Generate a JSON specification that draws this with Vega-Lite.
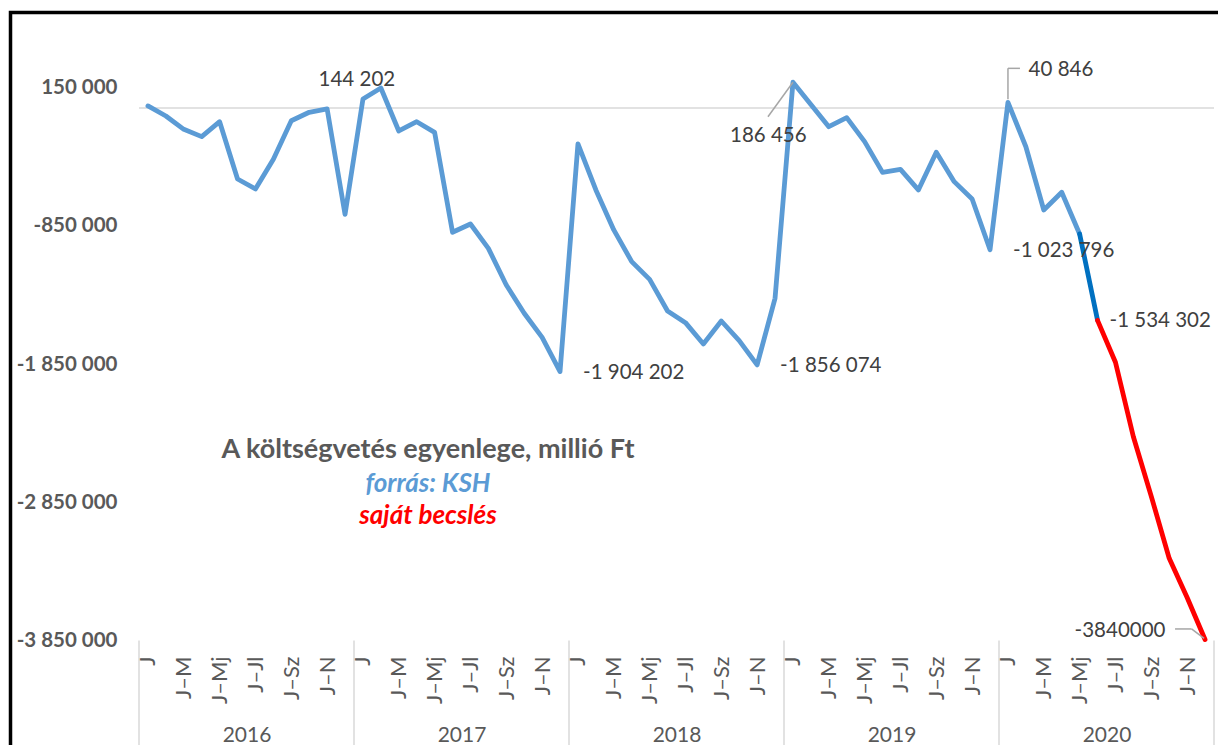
{
  "$schema": "https://vega.github.io/schema/vega-lite/v6.json",
  "width": 1209.5,
  "height": 734.5,
  "autosize": "none",
  "padding": {"left": 10.5, "top": 12.5, "right": -2, "bottom": -2},
  "background": "white",
  "config": {
    "locale": {"number": {"decimal": ",", "thousands": " ", "grouping": [3], "currency": ["", " Ft"], "minus": "-"}},
    "view": {"stroke": "#000000", "strokeWidth": 3.5},
    "font": "Lato",
    "text": {"font": "Lato", "fontSize": 20.5, "color": "#404040"}
  },
  "datasets": {
    "egyenleg": [
      {"m": 1, "v": 15000, "s": "KSH"},
      {"m": 2, "v": -58000, "s": "KSH"},
      {"m": 3, "v": -154000, "s": "KSH"},
      {"m": 4, "v": -207000, "s": "KSH"},
      {"m": 5, "v": -99000, "s": "KSH"},
      {"m": 6, "v": -513000, "s": "KSH"},
      {"m": 7, "v": -585000, "s": "KSH"},
      {"m": 8, "v": -370000, "s": "KSH"},
      {"m": 9, "v": -92000, "s": "KSH"},
      {"m": 10, "v": -31000, "s": "KSH"},
      {"m": 11, "v": -7000, "s": "KSH"},
      {"m": 12, "v": -768000, "s": "KSH"},
      {"m": 13, "v": 65000, "s": "KSH"},
      {"m": 14, "v": 144202, "s": "KSH"},
      {"m": 15, "v": -166000, "s": "KSH"},
      {"m": 16, "v": -99000, "s": "KSH"},
      {"m": 17, "v": -176000, "s": "KSH"},
      {"m": 18, "v": -898000, "s": "KSH"},
      {"m": 19, "v": -838000, "s": "KSH"},
      {"m": 20, "v": -1014000, "s": "KSH"},
      {"m": 21, "v": -1279000, "s": "KSH"},
      {"m": 22, "v": -1483000, "s": "KSH"},
      {"m": 23, "v": -1657000, "s": "KSH"},
      {"m": 24, "v": -1904202, "s": "KSH"},
      {"m": 25, "v": -260000, "s": "KSH"},
      {"m": 26, "v": -592000, "s": "KSH"},
      {"m": 27, "v": -881000, "s": "KSH"},
      {"m": 28, "v": -1110000, "s": "KSH"},
      {"m": 29, "v": -1238000, "s": "KSH"},
      {"m": 30, "v": -1467000, "s": "KSH"},
      {"m": 31, "v": -1551000, "s": "KSH"},
      {"m": 32, "v": -1705000, "s": "KSH"},
      {"m": 33, "v": -1539000, "s": "KSH"},
      {"m": 34, "v": -1681000, "s": "KSH"},
      {"m": 35, "v": -1856074, "s": "KSH"},
      {"m": 36, "v": -1375000, "s": "KSH"},
      {"m": 37, "v": 186456, "s": "KSH"},
      {"m": 38, "v": 25000, "s": "KSH"},
      {"m": 39, "v": -135000, "s": "KSH"},
      {"m": 40, "v": -70000, "s": "KSH"},
      {"m": 41, "v": -243000, "s": "KSH"},
      {"m": 42, "v": -465000, "s": "KSH"},
      {"m": 43, "v": -443000, "s": "KSH"},
      {"m": 44, "v": -592000, "s": "KSH"},
      {"m": 45, "v": -320000, "s": "KSH"},
      {"m": 46, "v": -532000, "s": "KSH"},
      {"m": 47, "v": -657000, "s": "KSH"},
      {"m": 48, "v": -1023796, "s": "KSH"},
      {"m": 49, "v": 40846, "s": "KSH"},
      {"m": 50, "v": -280000, "s": "KSH"},
      {"m": 51, "v": -737000, "s": "KSH"},
      {"m": 52, "v": -609000, "s": "KSH"},
      {"m": 53, "v": -910000, "s": "KSH"},
      {"m": 53, "v": -910000, "s": "átmenet"},
      {"m": 54, "v": -1534302, "s": "átmenet"},
      {"m": 54, "v": -1534302, "s": "becslés"},
      {"m": 55, "v": -1837000, "s": "becslés"},
      {"m": 56, "v": -2375000, "s": "becslés"},
      {"m": 57, "v": -2806000, "s": "becslés"},
      {"m": 58, "v": -3254000, "s": "becslés"},
      {"m": 59, "v": -3537000, "s": "becslés"},
      {"m": 60, "v": -3840000, "s": "becslés"}
    ]
  },
  "data": {"name": "egyenleg"},
  "layer": [
    {
      "data": {"values": [{}]},
      "mark": {"type": "rule", "color": "#d9d9d9", "strokeWidth": 1.5},
      "encoding": {
        "x": {"datum": 0.5, "type": "quantitative", "axis": {"orient": "bottom", "offset": -107, "values": [0.5, 12.5, 24.5, 36.5, 48.5, 60.5], "labels": false, "domain": false, "grid": false, "ticks": true, "tickSize": 110, "tickColor": "#d9d9d9", "tickWidth": 1.5, "title": null}},
        "x2": {"datum": 60.5},
        "y": {"datum": 0, "type": "quantitative"}
      }
    },
    {
      "mark": {"type": "line", "strokeWidth": 4.8, "strokeCap": "round", "strokeJoin": "round"},
      "encoding": {
        "x": {"field": "m", "type": "quantitative", "scale": {"domain": [-6.672, 60.835], "nice": false, "zero": false},
          "axis": {"orient": "bottom", "offset": -107, "values": [1, 3, 5, 7, 9, 11, 13, 15, 17, 19, 21, 23, 25, 27, 29, 31, 33, 35, 37, 39, 41, 43, 45, 47, 49, 51, 53, 55, 57, 59],
            "labelExpr": "['J','J–M','J–Mj','J–Jl','J–Sz','J–N'][((datum.value - 1) % 12) / 2]",
            "labelAngle": 270, "labelAlign": "right", "labelBaseline": "middle", "labelPadding": 16,
            "domain": false, "ticks": false, "tickSize": 0, "grid": false, "labelFont": "Lato", "labelFontSize": 22, "labelColor": "#595959", "title": null, "labelOverlap": false, "labelFlush": false}},
        "y": {"field": "v", "type": "quantitative", "scale": {"domain": [-4617000, 690000], "nice": false, "zero": false},
          "axis": {"orient": "left", "offset": -128.5, "values": [150000, -850000, -1850000, -2850000, -3850000], "format": ",d", "domain": false, "ticks": false, "tickSize": 0, "grid": false, "labelPadding": 22, "labelFont": "Lato", "labelFontSize": 20.5, "labelFontWeight": "bold", "labelColor": "#595959", "title": null, "labelOverlap": false, "labelFlush": false}},
        "color": {"field": "s", "type": "nominal", "scale": {"domain": ["KSH", "átmenet", "becslés"], "range": ["#5b9bd5", "#0070c0", "#ff0000"]}, "legend": null}
      }
    },
    {
      "transform": [{"filter": "datum.s == 'KSH' && (datum.m == 24 || datum.m == 35 || datum.m == 48)"}],
      "mark": {"type": "text", "align": "left", "dx": 23, "dy": 1},
      "encoding": {
        "x": {"field": "m", "type": "quantitative", "axis": null},
        "y": {"field": "v", "type": "quantitative"},
        "text": {"field": "v", "type": "quantitative", "format": ",d"}
      }
    },
    {
      "transform": [{"filter": "datum.s == 'becslés' && datum.m == 54"}],
      "mark": {"type": "text", "align": "left", "dx": 12, "dy": 1},
      "encoding": {
        "x": {"field": "m", "type": "quantitative", "axis": null},
        "y": {"field": "v", "type": "quantitative"},
        "text": {"field": "v", "type": "quantitative", "format": ",d"}
      }
    },
    {
      "transform": [{"filter": "datum.s == 'KSH' && datum.m == 14"}],
      "mark": {"type": "text", "align": "center", "dx": -24, "dy": -8.5},
      "encoding": {
        "x": {"field": "m", "type": "quantitative", "axis": null},
        "y": {"field": "v", "type": "quantitative"},
        "text": {"field": "v", "type": "quantitative", "format": ",d"}
      }
    },
    {
      "transform": [{"filter": "datum.s == 'KSH' && datum.m == 37"}],
      "mark": {"type": "text", "align": "center", "dx": -24.6, "dy": 54},
      "encoding": {
        "x": {"field": "m", "type": "quantitative", "axis": null},
        "y": {"field": "v", "type": "quantitative"},
        "text": {"field": "v", "type": "quantitative", "format": ",d"}
      }
    },
    {
      "transform": [{"filter": "datum.s == 'KSH' && datum.m == 49"}],
      "mark": {"type": "text", "align": "center", "dx": 53, "dy": -32},
      "encoding": {
        "x": {"field": "m", "type": "quantitative", "axis": null},
        "y": {"field": "v", "type": "quantitative"},
        "text": {"field": "v", "type": "quantitative", "format": ",d"}
      }
    },
    {
      "transform": [{"filter": "datum.m == 60"}],
      "mark": {"type": "text", "align": "center", "dx": -85, "dy": -8.5},
      "encoding": {
        "x": {"field": "m", "type": "quantitative", "axis": null},
        "y": {"field": "v", "type": "quantitative"},
        "text": {"field": "v", "type": "quantitative", "format": "d"}
      }
    },
    {
      "transform": [{"filter": "datum.s == 'KSH' && datum.m == 37"}],
      "mark": {"type": "rule", "color": "#a6a6a6", "strokeWidth": 1.5, "x2Offset": -25, "y2Offset": 34.5},
      "encoding": {
        "x": {"field": "m", "type": "quantitative", "axis": null},
        "x2": {"field": "m"},
        "y": {"field": "v", "type": "quantitative"},
        "y2": {"field": "v"}
      }
    },
    {
      "transform": [{"filter": "datum.s == 'KSH' && datum.m == 49"}],
      "mark": {"type": "rule", "color": "#a6a6a6", "strokeWidth": 1.5, "yOffset": -3, "y2Offset": -34},
      "encoding": {
        "x": {"field": "m", "type": "quantitative", "axis": null},
        "x2": {"field": "m"},
        "y": {"field": "v", "type": "quantitative"},
        "y2": {"field": "v"}
      }
    },
    {
      "transform": [{"filter": "datum.s == 'KSH' && datum.m == 49"}],
      "mark": {"type": "rule", "color": "#a6a6a6", "strokeWidth": 1.5, "yOffset": -34, "y2Offset": -34, "x2Offset": 12},
      "encoding": {
        "x": {"field": "m", "type": "quantitative", "axis": null},
        "x2": {"field": "m"},
        "y": {"field": "v", "type": "quantitative"},
        "y2": {"field": "v"}
      }
    },
    {
      "transform": [{"filter": "datum.m == 60"}],
      "mark": {"type": "rule", "color": "#a6a6a6", "strokeWidth": 1.5, "xOffset": -30, "x2Offset": -13.5, "yOffset": -10.5, "y2Offset": -10.5},
      "encoding": {
        "x": {"field": "m", "type": "quantitative", "axis": null},
        "x2": {"field": "m"},
        "y": {"field": "v", "type": "quantitative"},
        "y2": {"field": "v"}
      }
    },
    {
      "transform": [{"filter": "datum.m == 60"}],
      "mark": {"type": "rule", "color": "#a6a6a6", "strokeWidth": 1.5, "xOffset": -13.5, "x2Offset": -1, "yOffset": -10.5, "y2Offset": -1},
      "encoding": {
        "x": {"field": "m", "type": "quantitative", "axis": null},
        "x2": {"field": "m"},
        "y": {"field": "v", "type": "quantitative"},
        "y2": {"field": "v"}
      }
    },
    {
      "data": {"values": [{}]},
      "mark": {"type": "text", "font": "Lato", "fontSize": 27, "fontWeight": "bold", "color": "#595959", "text": "A költségvetés egyenlege, millió Ft"},
      "encoding": {
        "x": {"datum": 16.63, "type": "quantitative",
          "axis": {"orient": "bottom", "offset": -107, "values": [6.5, 18.5, 30.5, 42.5, 54.5], "labelExpr": "format(2016 + (datum.value - 6.5) / 12, 'd')", "labelAngle": 0, "labelAlign": "center", "labelBaseline": "alphabetic", "labelPadding": 101, "domain": false, "ticks": false, "tickSize": 0, "grid": false, "labelFont": "Lato", "labelFontSize": 21, "labelColor": "#595959", "title": null, "labelOverlap": false, "labelFlush": false}},
        "y": {"datum": -2471000, "type": "quantitative"}
      }
    },
    {
      "data": {"values": [{}]},
      "mark": {"type": "text", "font": "Lato", "fontSize": 26, "fontWeight": "bold", "fontStyle": "italic", "color": "#5b9bd5", "text": "forrás: KSH"},
      "encoding": {
        "x": {"datum": 16.63, "type": "quantitative", "axis": null},
        "y": {"datum": -2717000, "type": "quantitative"}
      }
    },
    {
      "data": {"values": [{}]},
      "mark": {"type": "text", "font": "Lato", "fontSize": 26, "fontWeight": "bold", "fontStyle": "italic", "color": "#ff0000", "text": "saját becslés"},
      "encoding": {
        "x": {"datum": 16.63, "type": "quantitative", "axis": null},
        "y": {"datum": -2948000, "type": "quantitative"}
      }
    }
  ],
  "resolve": {"axis": {"x": "independent"}}
}
